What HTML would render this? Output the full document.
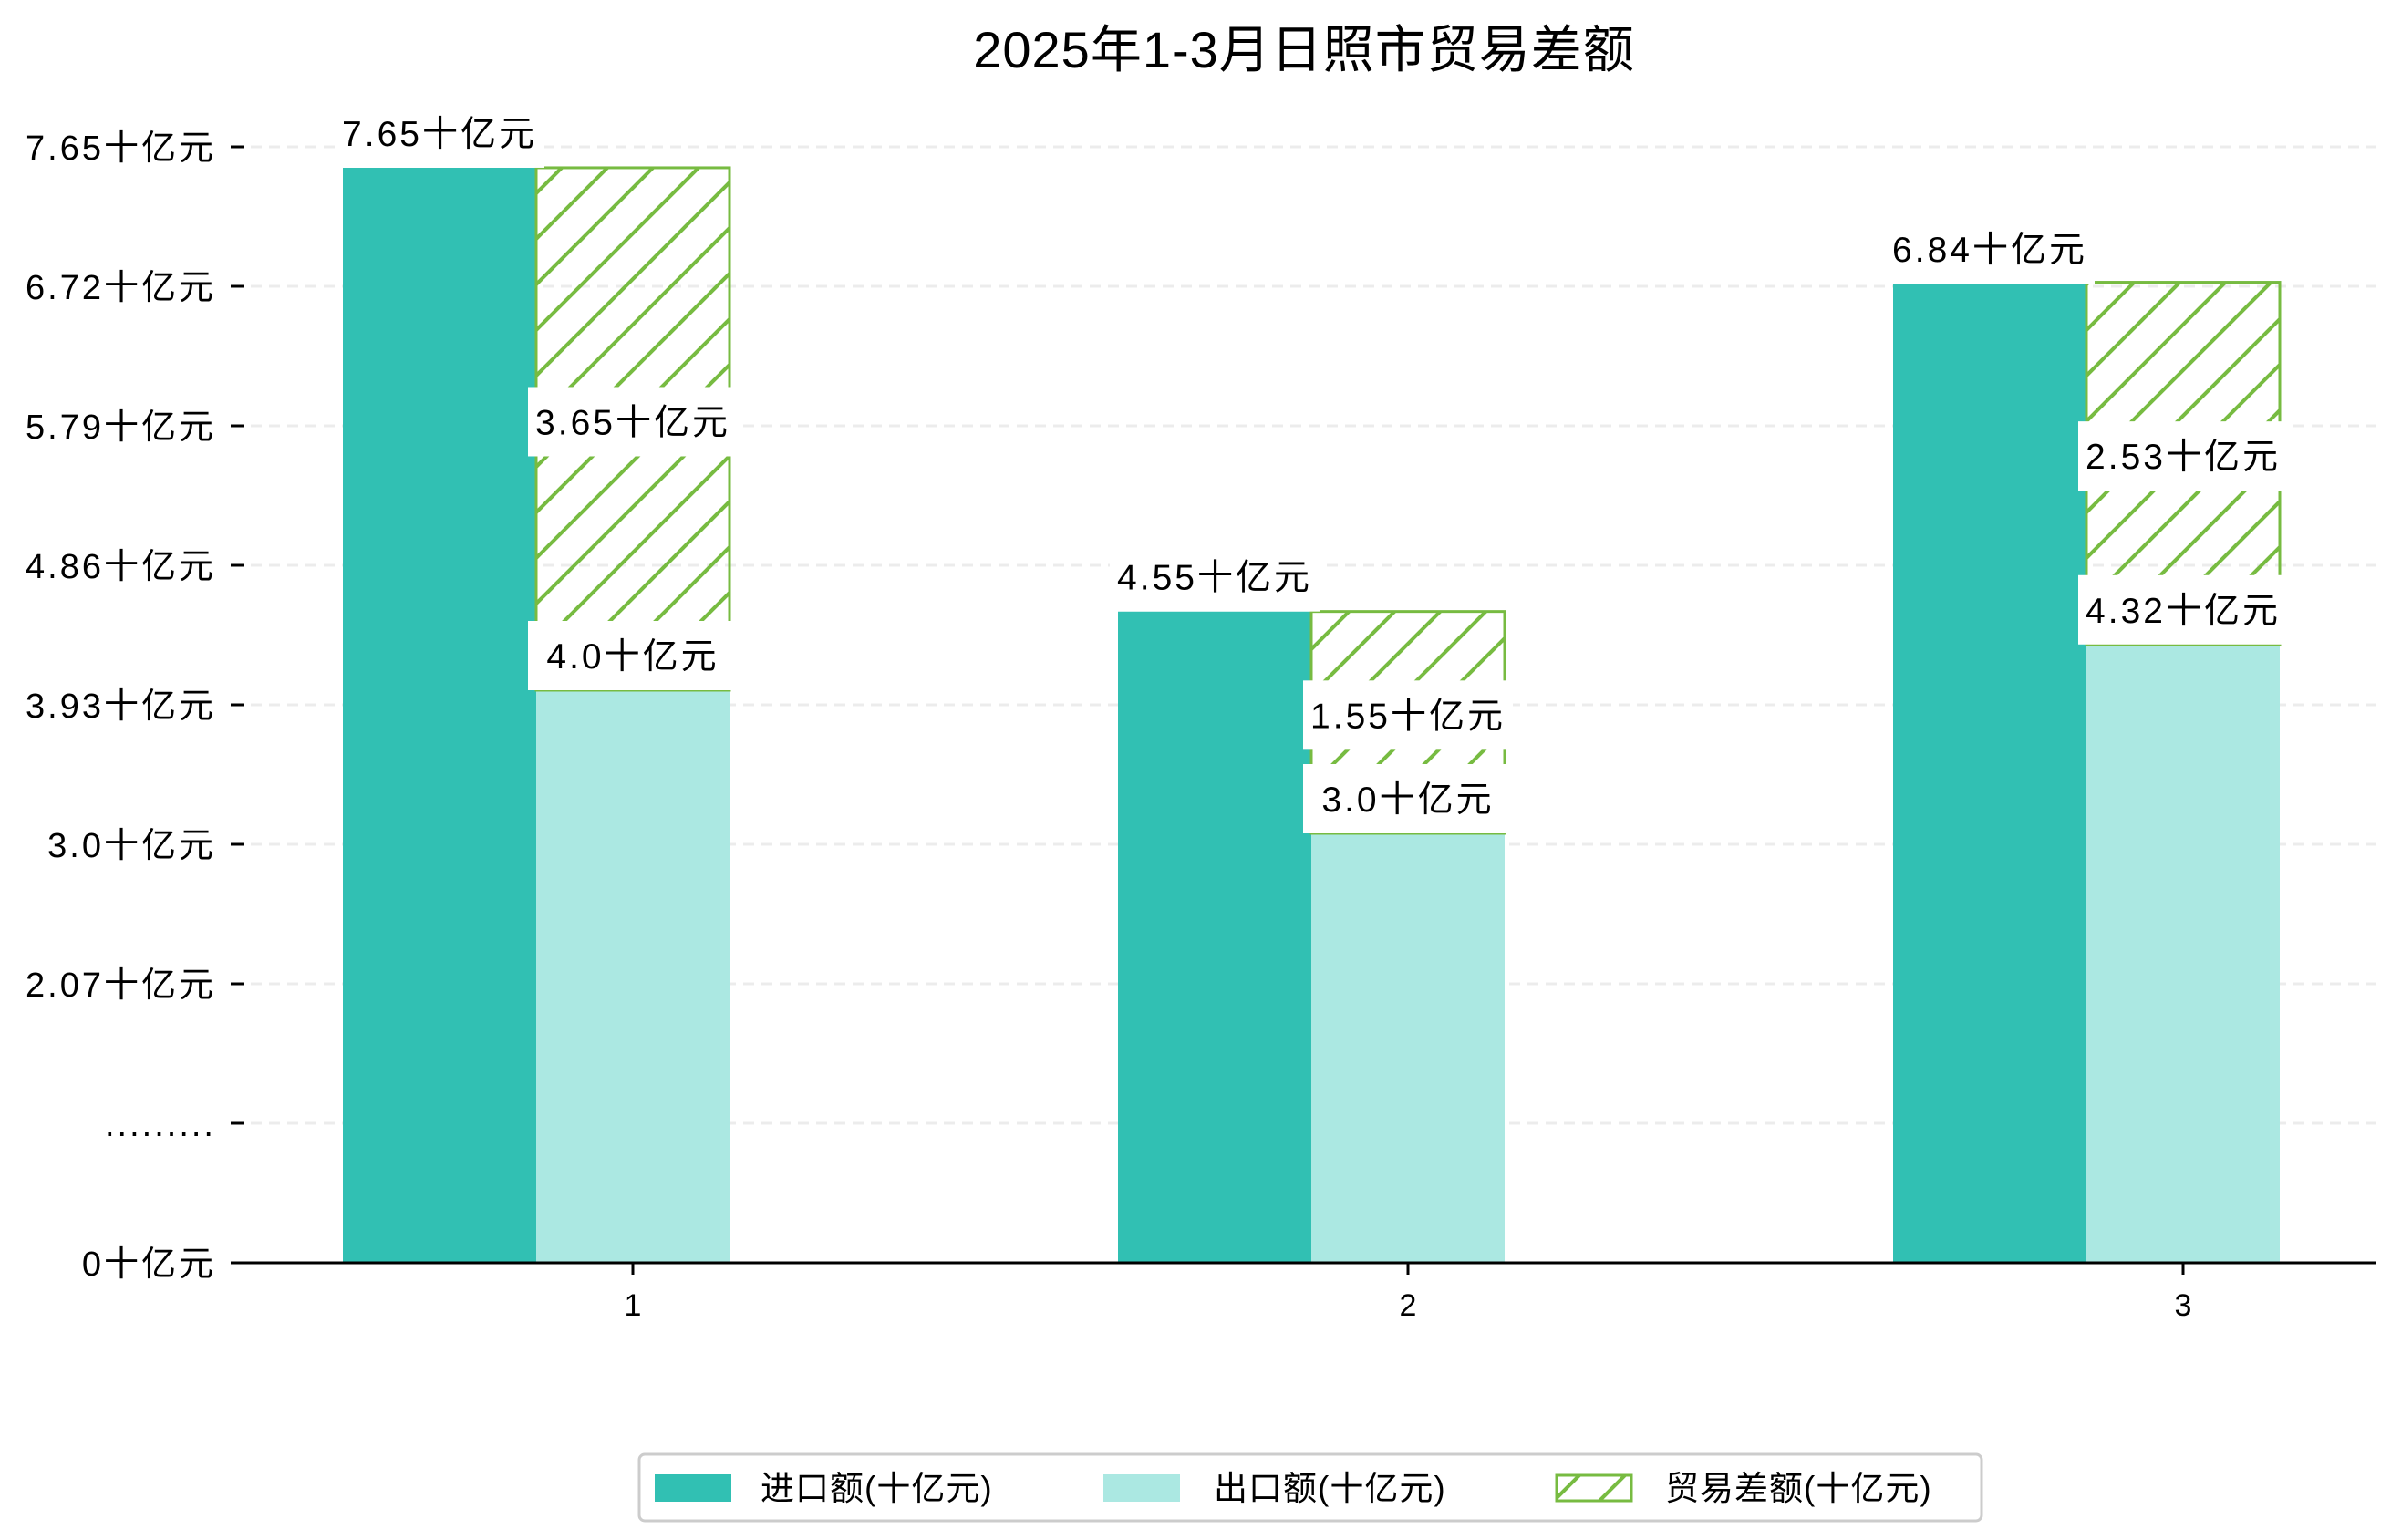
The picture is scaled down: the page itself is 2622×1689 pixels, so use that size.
<!DOCTYPE html>
<html><head><meta charset="utf-8">
<style>
html,body{margin:0;padding:0;background:#fff;}
svg{display:block;}
text{font-family:"Liberation Sans","WenQuanYi Zen Hei","Noto Sans CJK SC",sans-serif;fill:#000;}
</style></head>
<body>
<svg id="chart" width="2622" height="1689" viewBox="0 0 2622 1689" xmlns="http://www.w3.org/2000/svg">
<defs>
<pattern id="hatch" patternUnits="userSpaceOnUse" width="50" height="50">
<line x1="-5" y1="55" x2="55" y2="-5" stroke="#77bb41" stroke-width="4"/>
<line x1="-30" y1="30" x2="30" y2="-30" stroke="#77bb41" stroke-width="4"/>
<line x1="20" y1="80" x2="80" y2="20" stroke="#77bb41" stroke-width="4"/>
</pattern>
</defs>
<text x="1430" y="74" font-size="56" letter-spacing="1" text-anchor="middle">2025年1-3月日照市贸易差额</text>
<g id="grid"></g>
<g id="bars"></g>
<g id="axes"></g>
<g id="labels"></g>
<g>
<rect x="701" y="1595" width="1472" height="73" rx="6" fill="#fff" stroke="#cccccc" stroke-width="3"/>
<rect x="718" y="1617" width="84" height="30" fill="#31c0b3"/>
<text x="834" y="1645" font-size="37" letter-spacing="1">进口额(十亿元)</text>
<rect x="1210" y="1617" width="84" height="30" fill="#abe8e2"/>
<text x="1331" y="1645" font-size="37" letter-spacing="1">出口额(十亿元)</text>
<rect x="1707" y="1618" width="82" height="28" fill="url(#hatch)" stroke="#77bb41" stroke-width="3"/>
<text x="1826" y="1645" font-size="37" letter-spacing="1">贸易差额(十亿元)</text>
</g>
</svg>
<script>
const months = ["1", "2", "3"];
const importVals = [7.65, 4.55, 6.84];
const exportVals = [4.0, 3.0, 4.32];
const balanceVals = [3.65, 1.55, 2.53];
const importText = ["7.65十亿元", "4.55十亿元", "6.84十亿元"];
const exportText = ["4.0十亿元", "3.0十亿元", "4.32十亿元"];
const balanceText = ["3.65十亿元", "1.55十亿元", "2.53十亿元"];
const yTickLabels = ["0十亿元", ".........", "2.07十亿元", "3.0十亿元", "3.93十亿元", "4.86十亿元", "5.79十亿元", "6.72十亿元", "7.65十亿元"];

const NS = "http://www.w3.org/2000/svg";
const base = 1385, K = 157, plotL = 255, plotR = 2606, tickStep = 153;
const bw = 212, x0 = 694, xStep = 850;
function yScale(v){ return base - v * K; }
function tickY(i){ return base - i * tickStep; }
function xCenter(i){ return x0 + i * xStep; }
function mk(tag, attrs, parent){ const e = document.createElementNS(NS, tag); for (const k in attrs) e.setAttribute(k, attrs[k]); parent.appendChild(e); return e; }

const grid = document.getElementById('grid'), bars = document.getElementById('bars'),
      axes = document.getElementById('axes'), labels = document.getElementById('labels');

yTickLabels.forEach((t, i) => {
  const y = tickY(i);
  if (i > 0) {
    const g = mk('line', {x1: plotL, x2: plotR, y1: y, y2: y, stroke: 'rgba(200,200,200,0.35)', 'stroke-width': 3, 'stroke-dasharray': '12 8'}, grid);
    
    
  }
  const tk = mk('line', {x1: 253, x2: 268, y1: y, y2: y, stroke: '#000', 'stroke-width': 3}, axes);
  
  
  const tx = mk('text', {x: 237, y: y + 14, 'font-size': 38, 'letter-spacing': 3, 'text-anchor': 'end'}, axes);
  tx.textContent = t;
  
  
});

function labelBox(text, cx, cy, name){
  const w = 230, h = 76;
  const g = mk('g', {}, labels);
  
  
  mk('rect', {x: cx - w/2, y: cy - h/2, width: w, height: h, fill: '#fff'}, g);
  const t = mk('text', {x: cx, y: cy + 14, 'font-size': 39, 'letter-spacing': 3, 'text-anchor': 'middle'}, g);
  t.textContent = text;
}

months.forEach((m, i) => {
  const c = xCenter(i);
  const impTop = yScale(importVals[i]);
  const r1 = mk('rect', {x: c - 1.5*bw, y: impTop, width: bw, height: base - impTop, fill: '#31c0b3'}, bars);
  
  
  const expTop = yScale(exportVals[i]);
  const r2 = mk('rect', {x: c - bw/2, y: expTop, width: bw, height: base - expTop, fill: '#abe8e2'}, bars);
  
  
  const balTop = yScale(exportVals[i] + balanceVals[i]);
  const r3 = mk('rect', {x: c - bw/2, y: balTop, width: bw, height: expTop - balTop, fill: 'url(#hatch)', stroke: '#77bb41', 'stroke-width': 3}, bars);
  
  

  const xt = mk('line', {x1: c, x2: c, y1: base, y2: base + 13, stroke: '#000', 'stroke-width': 3}, axes);
  
  
  const xl = mk('text', {x: c, y: base + 58, 'font-size': 34, 'text-anchor': 'middle'}, axes);
  xl.textContent = m;
  
  

  labelBox(importText[i], c - bw, impTop - 38, 'import-value-label');
  labelBox(balanceText[i], c, (balTop + expTop)/2 - 8, 'balance-value-label');
  labelBox(exportText[i], c, expTop - 38, 'export-value-label');
});
const ax = mk('line', {x1: plotL, x2: plotR, y1: base, y2: base, stroke: '#000', 'stroke-width': 3}, axes);


</script>
</body></html>
